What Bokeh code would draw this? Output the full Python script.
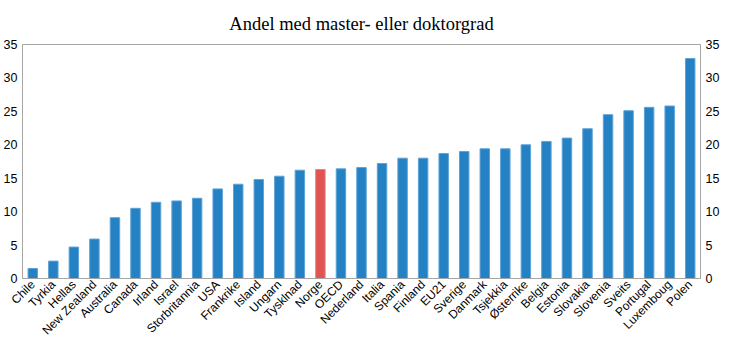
import math
from bokeh.plotting import figure
from bokeh.models import LinearAxis, FixedTicker, Range1d, ColumnDataSource
from bokeh.embed import file_html
from bokeh.resources import INLINE

countries = ["Chile", "Tyrkia", "Hellas", "New Zealand", "Australia", "Canada", "Irland",
             "Israel", "Storbritannia", "USA", "Frankrike", "Island", "Ungarn", "Tysklnad",
             "Norge", "OECD", "Nederland", "Italia", "Spania", "Finland", "EU21", "Sverige",
             "Danmark", "Tsjekkia", "Østerrike", "Belgia", "Estonia", "Slovakia", "Slovenia",
             "Sveits", "Portugal", "Luxemboug", "Polen"]
values = [1.5, 2.6, 4.7, 5.9, 9.1, 10.5, 11.4, 11.6, 12.0, 13.4, 14.1, 14.8, 15.3, 16.2,
          16.3, 16.4, 16.6, 17.2, 18.0, 18.0, 18.7, 19.0, 19.4, 19.4, 20.0, 20.5, 21.0,
          22.4, 24.5, 25.1, 25.6, 25.8, 32.9]
highlight = "Norge"
y_ticks = [0, 5, 10, 15, 20, 25, 30, 35]
title_text = "Andel med master- eller doktorgrad"

BLUE = "#2481c3"
RED = "#e05454"
colors = [RED if c == highlight else BLUE for c in countries]
edges = ["#e88080" if c == highlight else "#5fa3d6" for c in countries]

src = ColumnDataSource(dict(x=countries, top=values, color=colors, edge=edges))

p = figure(x_range=countries, y_range=Range1d(0, 35), frame_width=678, frame_height=234,
           output_backend="svg", toolbar_location=None,
           min_border_left=0, min_border_right=0, min_border_top=14, min_border_bottom=0)
p.x_range.range_padding = 0
p.vbar(x="x", top="top", width=0.46, source=src, fill_color="color",
       line_color="edge", line_width=1)

p.title.text = title_text
p.title.align = "center"
p.title.text_font = "Liberation Serif"
p.title.text_font_size = "18.5px"
p.title.text_font_style = "normal"
p.title.text_color = "#000000"
p.title.standoff = 22

p.xgrid.grid_line_color = None
p.ygrid.grid_line_color = None
p.outline_line_color = "#a6a6a6"
p.outline_line_width = 1

ax_right = LinearAxis()
p.add_layout(ax_right, "right")

for ax, so in [(p.yaxis[0], 5), (ax_right, 5)]:
    ax.ticker = FixedTicker(ticks=y_ticks)
    ax.major_tick_line_color = None
    ax.minor_tick_line_color = None
    ax.major_tick_out = 0
    ax.major_tick_in = 0
    ax.axis_line_color = "#a6a6a6"
    ax.major_label_text_font = "Liberation Sans"
    ax.major_label_text_font_size = "12.5px"
    ax.major_label_text_color = "#000000"
    ax.major_label_standoff = so

xa = p.xaxis[0]
xa.major_tick_line_color = None
xa.minor_tick_line_color = None
xa.major_tick_out = 0
xa.major_tick_in = 0
xa.axis_line_color = "#a6a6a6"
xa.major_label_orientation = math.pi / 4
xa.major_label_text_font = "Liberation Sans"
xa.major_label_text_font_size = "12px"
xa.major_label_text_color = "#000000"
xa.major_label_standoff = 4

open("out.html", "w").write(file_html(p, INLINE))
